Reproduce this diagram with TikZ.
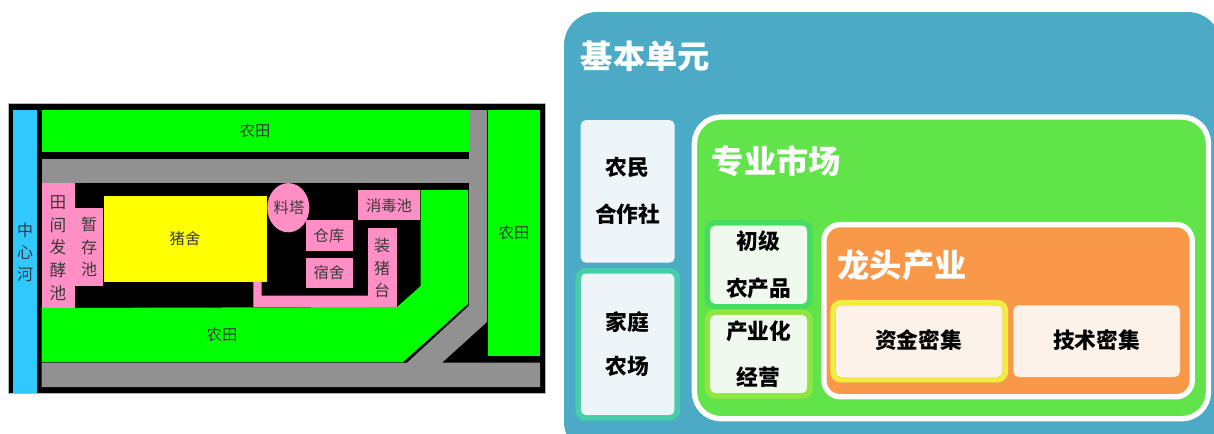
\documentclass[tikz,border=0pt]{standalone}
\usepackage{fontspec}
\setmainfont{Noto Sans CJK SC}
\begin{document}
\begin{tikzpicture}[x=0.75pt,y=-0.75pt,
  fieldc/.style={fill=fieldg},
  roadc/.style={fill=roadg},
  pinkc/.style={fill=pinkp},
  mapt/.style={inner sep=0pt,text=maptext,font=\fontsize{11.5pt}{15.5pt}\selectfont,align=center},
  heading/.style={inner sep=0pt,text=white,font=\fontsize{24.2pt}{28pt}\selectfont\bfseries},
  label/.style={inner sep=0pt,text=black,font=\fontsize{16.3pt}{18pt}\selectfont\bfseries},
  card/.style={rounded corners=4pt,fill=#1},
  ring/.style={line width=4pt,draw=#1,rounded corners=6pt},
  whitering/.style={line width=4pt,draw=white}
]
\definecolor{fieldg}{HTML}{00FF00}
\definecolor{roadg}{HTML}{919191}
\definecolor{pinkp}{HTML}{FF8FC4}
\definecolor{rivb}{HTML}{2FC8FF}
\definecolor{maptext}{HTML}{3A3A3A}
\definecolor{pureyellow}{HTML}{FFFF00}
\definecolor{framegray}{HTML}{B8B8B8}
\definecolor{panelb}{HTML}{4BABC6}
\definecolor{cardb}{HTML}{EDF5F9}
\definecolor{cardg}{HTML}{EFF9EE}
\definecolor{cardo}{HTML}{FDF2EA}
\definecolor{mktg}{HTML}{61E34A}
\definecolor{leado}{HTML}{F99848}
\definecolor{ringa}{HTML}{45CEA8}
\definecolor{ringb}{HTML}{45DC62}
\definecolor{ringc}{HTML}{8FE640}
\definecolor{ringd}{HTML}{EEEE3E}
\useasboundingbox (0,0) rectangle (1214,433);
\clip (0,0) rectangle (1214,433);
% ---- left map
\fill[black,draw=framegray,line width=0.6pt] (8.5,103) rectangle (545,393.5);
\fill[rivb] (13,110) rectangle (37,393);
\fill[fieldc] (41.5,110) rectangle (469,152);
\fill[fieldc] (488,110) rectangle (540,355.5);
\fill[roadc] (41.5,159) rectangle (470,182.7);
\fill[roadc] (469,110) -- (487,110) -- (487,322) -- (442,362.7) -- (540,362.7) -- (540,387) -- (41.5,387) -- (41.5,362.7) -- (407,362.7) -- (469,305.7) -- cycle;
\fill[fieldc] (41.5,308) -- (397,307) -- (420.7,286) -- (420.7,190) -- (468,190) -- (468,304) -- (466,306) -- (403,362) -- (41.5,362) -- cycle;
\draw[black,line width=0.9pt] (466,306.5) -- (405,362.3);
\fill[pinkc] (41.5,183) rectangle (74.7,308);
\fill[pinkc] (74.7,207.7) rectangle (103,286);
\fill[pureyellow] (104.3,196.3) rectangle (266.7,281.7);
\fill[pinkc] (253.3,281.7) rectangle (261.7,307) (253.3,295.7) rectangle (368.3,307);
\fill[pinkc] (368.3,228.3) rectangle (396.7,307);
\fill[pinkc] (288.3,207.7) ellipse [x radius=21,y radius=24.6];
\fill[pinkc] (305.7,220.3) rectangle (352.7,251.3);
\fill[pinkc] (305.7,257.7) rectangle (352.7,288.3);
\fill[pinkc] (358.3,190) rectangle (420,220.3);
\node[mapt] (t1) at (255,131) {农田};
\node[mapt] (t2) at (222,335) {农田};
\node[mapt] (t3) at (514,233) {农田};
\node[mapt,font=\fontsize{12pt}{16.5pt}\selectfont] (t4) at (25,252) {中\\心\\河};
\node[mapt,font=\fontsize{12.5pt}{17pt}\selectfont] (t5) at (58,248) {田\\间\\发\\酵\\池};
\node[mapt,font=\fontsize{12pt}{17pt}\selectfont] (t6) at (89,247) {暂\\存\\池};
\node[mapt] (t7) at (185,239) {猪舍};
\node[mapt] (t8) at (289,208) {料塔};
\node[mapt] (t9) at (329,236) {仓库};
\node[mapt] (t10) at (329,273) {宿舍};
\node[mapt] (t11) at (389,206) {消毒池};
\node[mapt,font=\fontsize{12pt}{17pt}\selectfont] (t12) at (382,268) {装\\猪\\台};
% ---- right panel
\fill[panelb,rounded corners=25pt] (564,12) rectangle (1221,455);
\node[heading] (base) at (645.5,56) {基本单元};
\fill[card=cardb] (580.7,120) rectangle (674.7,262.7);
\node[label] (a1) at (627.7,167.5) {农民};
\node[label] (a2) at (627.7,214) {合作社};
\fill[card=cardb] (580.7,273.3) rectangle (674.7,415.3);
\draw[ring=ringa] (578,270.6) rectangle (677.4,418);
\node[label] (b1) at (627.7,322) {家庭};
\node[label] (b2) at (627.7,366.5) {农场};
\fill[mktg,rounded corners=20pt] (694.4,117) rectangle (1208.5,418.7);
\draw[whitering,rounded corners=20pt] (694.4,117) rectangle (1208.5,418.7);
\node[heading] (mkt) at (776.5,161) {专业市场};
\fill[card=cardg] (710,225.3) rectangle (807.3,304);
\draw[ring=ringb] (707.3,222.6) rectangle (810,306.7);
\node[label] (c1) at (758.7,241.5) {初级};
\node[label] (c2) at (758.7,288) {农产品};
\fill[card=cardg] (710,314.7) rectangle (807.3,393.3);
\draw[ring=ringc] (707.3,312) rectangle (810,396);
\node[label] (d1) at (758.7,331) {产业化};
\node[label] (d2) at (758.7,377) {经营};
\fill[leado,rounded corners=12pt] (824,224.6) rectangle (1192.2,396.7);
\draw[whitering,rounded corners=12pt] (824,224.6) rectangle (1192.2,396.7);
\node[heading] (lead) at (902,265) {龙头产业};
\fill[card=cardo] (835.7,305.3) rectangle (1002.7,377);
\draw[ring=ringd] (833,302.6) rectangle (1005.4,379.7);
\node[label] (e1) at (918.5,340) {资金密集};
\fill[card=cardo] (1013.3,305.3) rectangle (1180,377);
\node[label] (e2) at (1096.5,340) {技术密集};
\end{tikzpicture}
\end{document}
